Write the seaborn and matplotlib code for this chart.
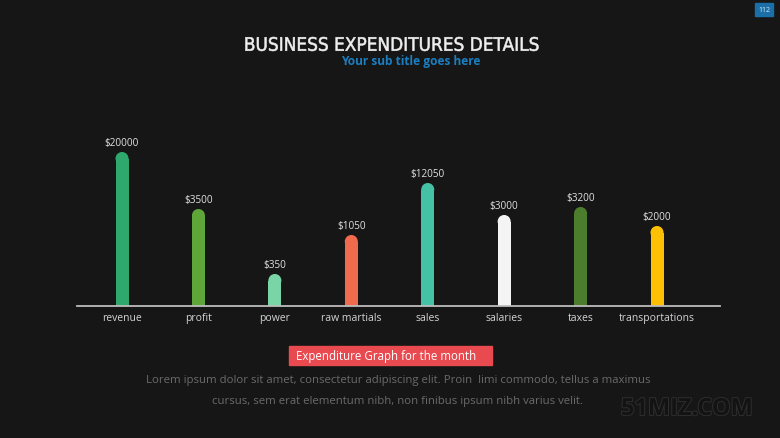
import numpy as np
import pandas as pd
import seaborn as sns
import matplotlib.pyplot as plt
import matplotlib.patheffects as pe
from matplotlib.patches import Rectangle, PathPatch
from matplotlib.textpath import TextPath
from matplotlib.font_manager import FontProperties
from matplotlib.transforms import Affine2D, IdentityTransform

# chart data
categories = ['revenue', 'profit', 'power', 'raw martials', 'sales', 'salaries', 'taxes', 'transportations']
value_labels = ['$20000', '$3500', '$350', '$1050', '$12050', '$3000', '$3200', '$2000']
# bar heights as drawn on the slide (not proportional to the labels)
bar_heights = [154, 97, 32, 71, 123, 91, 99, 80]
bar_colors = ['#2ea86c', '#5ea63a', '#79d4a6', '#f06a4e', '#45c2a5', '#f4f4f4', '#4b7d2c', '#fdc002']

title = 'BUSINESS EXPENDITURES DETAILS'
subtitle = 'Your sub title goes here'
caption = 'Expenditure Graph for the month'
body_lines = ['Lorem ipsum dolor sit amet, consectetur adipiscing elit. Proin  limi commodo, tellus a maximus',
              'cursus, sem erat elementum nibh, non finibus ipsum nibh varius velit.']

bg = '#161616'
sns.set_style('dark')
plt.rcParams['font.family'] = ['Open Sans', 'DejaVu Sans']

fig = plt.figure(figsize=(7.8, 4.39), dpi=100)
fig.patch.set_facecolor(bg)

W, H = 780, 439
ax = fig.add_axes([77 / W, 1 - 307 / H, 643 / W, 177 / H])
ax.set_facecolor(bg)

r = 6.5  # cap radius in px (y units are px)
df = pd.DataFrame({'cat': categories, 'h': np.array(bar_heights) - r})
sns.barplot(data=df, x='cat', y='h', hue='cat', palette=bar_colors, legend=False,
            width=0.17, saturation=1, ax=ax, linewidth=0)
sns.scatterplot(x=np.arange(len(categories)), y=np.array(bar_heights) - r, hue=categories,
                palette=bar_colors, legend=False, s=88, linewidth=0, ax=ax, zorder=3)

for i, (h, lab) in enumerate(zip(bar_heights, value_labels)):
    ax.annotate(lab, (i, h), xytext=(0, 3), textcoords='offset points',
                ha='center', va='bottom', fontsize=7.2, color='#e0e0e0')

ax.set_xlim(-0.589, 7.824)
ax.set_ylim(0, 177)
ax.set_xlabel('')
ax.set_ylabel('')
ax.set_yticks([])
ax.tick_params(axis='x', length=0, pad=4.5, labelsize=7.5, labelcolor='#d4d4d4')
for s in ['top', 'right', 'left']:
    ax.spines[s].set_visible(False)
ax.spines['bottom'].set_color('#bdbdbd')
ax.spines['bottom'].set_linewidth(1.3)
ax.grid(False)

# condensed title: text path squeezed horizontally (pixel coords)
tp = TextPath((0, 0), title, size=18.5, prop=FontProperties(family='DejaVu Sans'))
ext = tp.get_extents()
sx = 293 / ext.width
tx = 392 - sx * (ext.x0 + ext.width / 2)
ty = (H - 52) - ext.y0
tr = Affine2D().scale(sx, 1).translate(tx, ty)
fig.patches.append(PathPatch(tr.transform_path(tp), transform=IdentityTransform(),
                             facecolor='#f0f0f0', edgecolor='#f0f0f0', linewidth=0.4))

fig.text(411 / W, 1 - 62 / H, subtitle, ha='center', va='center', fontsize=8.6,
         color='#1b7ec0', fontweight='bold')

# caption box
fig.patches.append(Rectangle((289 / W, 1 - 366 / H), 203 / W, 19 / H,
                             transform=fig.transFigure, color='#e84a50'))
fig.text(296 / W, 1 - 356.5 / H, caption, ha='left', va='center', fontsize=8.3, color='white')

fig.text(398 / W, 1 - 381 / H, body_lines[0], ha='center', va='center', fontsize=8.2, color='#6b6b6b')
fig.text(398 / W, 1 - 402 / H, body_lines[1], ha='center', va='center', fontsize=8.2, color='#6b6b6b')

# page number
fig.patches.append(Rectangle((755 / W, 1 - 17 / H), 18 / W, 13 / H,
                             transform=fig.transFigure, color='#1b6fa8'))
fig.text(764 / W, 1 - 10.5 / H, '112', ha='center', va='center', fontsize=5, color='#dfe8f0')

# watermark
fig.text(687 / W, 1 - 410 / H, '51MIZ.COM', ha='center', va='center', fontsize=17,
         fontweight='bold', color='#131313',
         path_effects=[pe.withStroke(linewidth=1.4, foreground='#2e2e2e')])

fig.savefig('out.png', dpi=100, facecolor=bg)
